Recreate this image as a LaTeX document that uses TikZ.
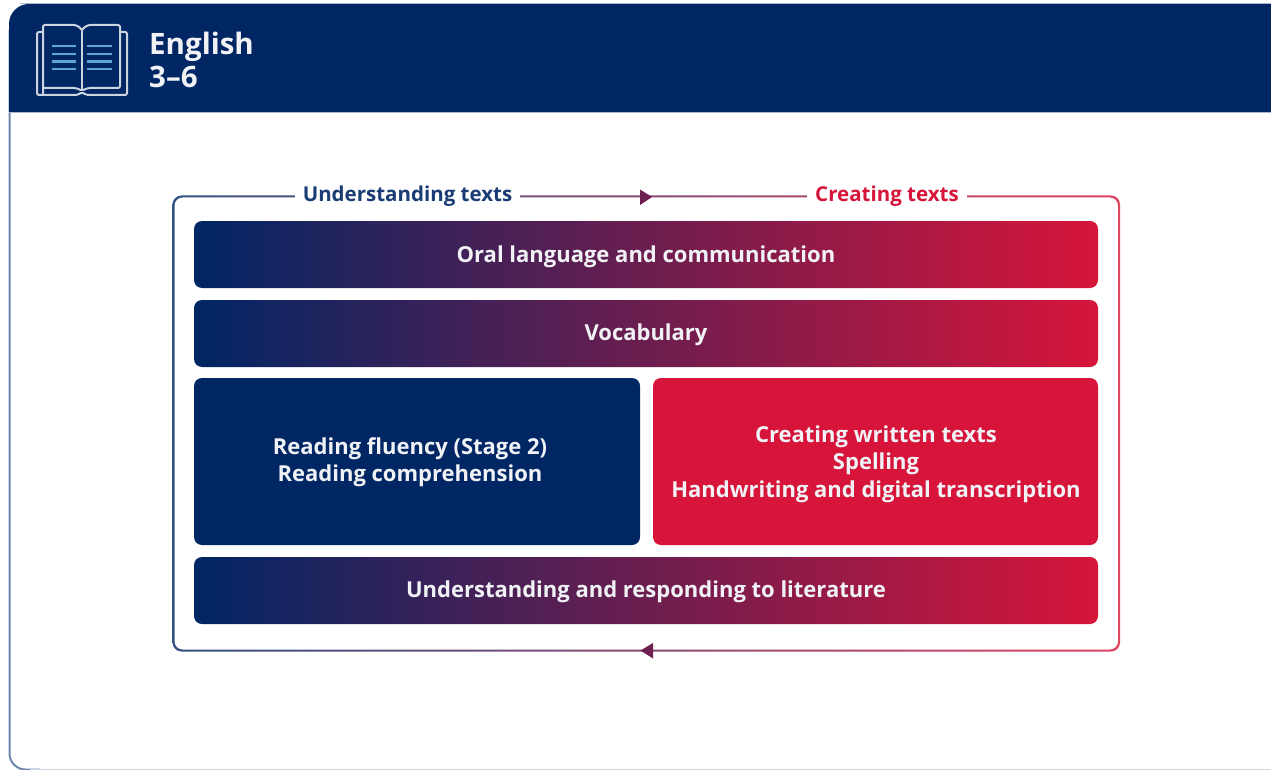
\documentclass[tikz,border=0pt]{standalone}
\usepackage{fontspec}
\setmainfont{Open Sans}
\usetikzlibrary{arrows.meta}
\definecolor{navy}{HTML}{002664}
\definecolor{nswred}{HTML}{D7153A}
\definecolor{midp}{HTML}{6D1F50}
\definecolor{cardedge}{HTML}{6F86AB}
\definecolor{iconblue}{HTML}{5FA6D0}
\tikzset{
  gradbar/.style={rounded corners=8pt,left color=navy,right color=nswred,draw=none},
  lbl/.style={text=white!94!navy,font=\bfseries\fontsize{22pt}{27.5pt}\selectfont,align=center,inner sep=0pt},
  head/.style={font=\bfseries\fontsize{20.5pt}{24pt}\selectfont,fill=white,inner sep=0pt,inner xsep=8pt,minimum height=14pt},
  tri/.style={fill=midp,draw=none},
  book/.style={draw=white!80!navy,line width=2pt,rounded corners=2pt},
  bookline/.style={draw=iconblue,line width=2.4pt},
}
\begin{document}
\begin{tikzpicture}[x=1pt,y=-1pt]
\useasboundingbox (0,0) rectangle (1271,770);
\fill[white] (0,0) rectangle (1271,770);
% card
\draw[cardedge,line width=2pt,rounded corners=16pt] (9.5,30) -- (9.5,769.5) -- (40,769.5);
\draw[cardedge!35!white,line width=1.5pt] (30,769.5) -- (1271,769.5);
\fill[navy,rounded corners=20pt] (9,112) -- (9,4) -- (1300,4) -- (1300,112) -- cycle;
\fill[navy] (9,60) rectangle (40,112);
\draw[cardedge!60!white,line width=1pt] (20,3.5) -- (1271,3.5);
\draw[cardedge!60!white,line width=1pt] (9,112.5) -- (1271,112.5);
% icon
\draw[book] (43,96) -- (43,25) -- (72,25) .. controls (76,25) and (80,27) .. (82,31) .. controls (84,27) and (88,25) .. (92,25) -- (120,25) -- (120,88) -- (92,88) .. controls (88,88) and (85,89) .. (82,91) .. controls (79,89) and (76,88) .. (72,88) -- (43,88);
\draw[book] (82,31) -- (82,91);
\draw[book] (43,32) -- (37,32) -- (37,95) -- (78,95) -- (82,92) -- (86,95) -- (127,95) -- (127,32) -- (120,32);
\foreach \y in {46,54,61.5,69}{
  \draw[bookline] (52,\y) -- (76,\y);
  \draw[bookline] (87,\y) -- (112,\y);
}
\node[anchor=west,text=white!94!navy,font=\bfseries\fontsize{29.5pt}{33pt}\selectfont,align=left,inner sep=0pt] (title) at (149,59.5) {English\\3–6};
% frame ring
\path[even odd rule,left color=navy!80!white,right color=nswred!80!white,draw=none]
  [rounded corners=9pt] (172.5,195.5) rectangle (1120,651.5)
  [rounded corners=8pt] (174.5,197.5) rectangle (1118,649.5);
\node[head,text=navy!90!white] (ut) at (407.5,196) {Understanding texts};
\node[head,text=nswred] (ct) at (887,196) {Creating texts};
\path[tri] (640,189.5) -- (652,197) -- (640,205) -- cycle;
\path[tri] (653,643) -- (640.5,650.5) -- (653,658.5) -- cycle;
% bars
\path[gradbar] (194,221) rectangle (1098,288);
\node[lbl] (oral) at (646,256.5) {Oral language and communication};
\path[gradbar] (194,300) rectangle (1098,367);
\node[lbl] (voc) at (646,335) {Vocabulary};
\fill[navy,rounded corners=8pt] (194,378) rectangle (640,545);
\node[lbl] (read) at (410,462) {Reading fluency (Stage 2)\\Reading comprehension};
\fill[nswred,rounded corners=8pt] (653,378) rectangle (1098,545);
\node[lbl] (cre) at (876,464) {Creating written texts\\Spelling\\Handwriting and digital transcription};
\path[gradbar] (194,557) rectangle (1098,624);
\node[lbl] (lit) at (646,592) {Understanding and responding to literature};
\end{tikzpicture}
\end{document}
